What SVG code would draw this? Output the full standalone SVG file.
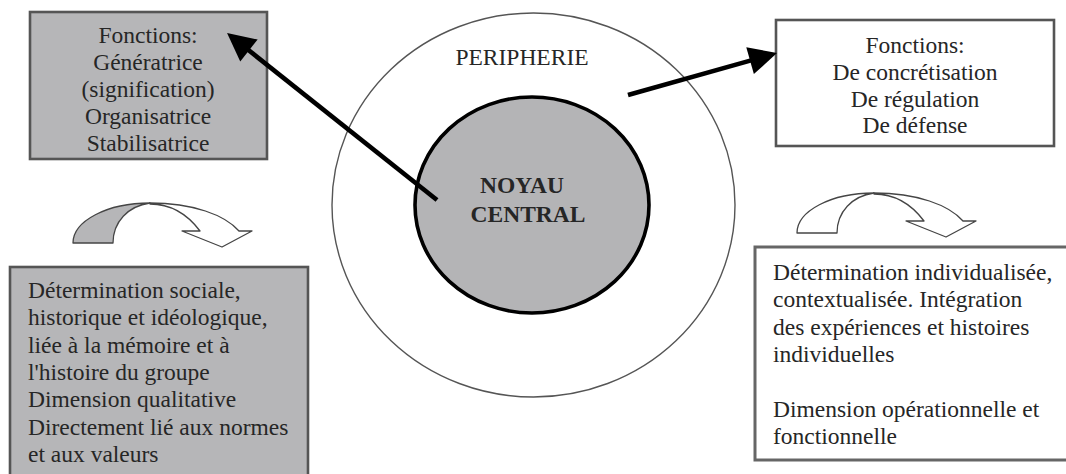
<svg xmlns="http://www.w3.org/2000/svg" width="1066" height="474" viewBox="0 0 1066 474">
<style>
  .box{stroke:#555;stroke-width:2.6}
  .gray{fill:#b6b6b8}
  .white{fill:#ffffff}
  .t{font-size:23.5px;fill:#262626}
  .c{text-anchor:middle}
  .b{font-weight:bold}
  .conn{stroke:#000;stroke-width:4.6;fill:none;marker-end:url(#head)}
  .curve{stroke:#454545;stroke-width:1.3;stroke-linejoin:round}
</style>
<defs>
  <marker id="head" markerUnits="userSpaceOnUse" viewBox="0 -15 30 30" markerWidth="30" markerHeight="30" refX="2" refY="0" orient="auto" overflow="visible">
    <path d="M0,-14 L28,0 L0,14 Z" fill="#000"/>
  </marker>
  <path id="bandL" d="M0,0 C0,-22 34,-40 77,-40 C55,-37 40,-21 40,0 Z"/>
  <path id="bandR" d="M77,-40 C120,-40 152,-28 166,-12 L179,-12 L149,4 L109,-12 L127,-12 C115,-28 98,-39 77,-39 Z"/>
</defs>
<rect width="1066" height="474" fill="#fff"/>
<g font-family="'Liberation Serif', 'DejaVu Serif', serif">
<g id="peripherie">
  <ellipse cx="533.5" cy="205" rx="201.5" ry="192" fill="#fff" stroke="#555" stroke-width="1.4"/>
  <text class="t c" x="522" y="65">PERIPHERIE</text>
</g>

<g id="noyau-central">
  <ellipse cx="532" cy="205" rx="117" ry="108" fill="#b4b4b6" stroke="#000" stroke-width="3.6"/>
  <text class="t b" x="522" y="193" text-anchor="middle">NOYAU</text>
  <text class="t b" x="528" y="222" text-anchor="middle">CENTRAL</text>
</g>

<g id="fonctions-noyau">
  <rect class="box gray" x="30" y="12" width="237" height="147"/>
  <text class="t c" x="148" y="43">Fonctions:</text>
  <text class="t c" x="148" y="70">Génératrice</text>
  <text class="t c" x="148" y="97">(signification)</text>
  <text class="t c" x="148" y="124">Organisatrice</text>
  <text class="t c" x="148" y="151">Stabilisatrice</text>
</g>

<g id="fonctions-peripherie">
  <rect class="box white" x="776" y="20" width="278" height="126"/>
  <text class="t c" x="915" y="53">Fonctions:</text>
  <text class="t c" x="915" y="80">De concrétisation</text>
  <text class="t c" x="915" y="106.5">De régulation</text>
  <text class="t c" x="915" y="133">De défense</text>
</g>

<g id="determination-sociale">
  <rect class="box gray" x="10" y="267" width="298" height="230"/>
  <text class="t" x="28" y="298">Détermination sociale,</text>
  <text class="t" x="28" y="325.3">historique et idéologique,</text>
  <text class="t" x="28" y="352.7">liée à la mémoire et à</text>
  <text class="t" x="28" y="380">l'histoire du groupe</text>
  <text class="t" x="28" y="407.3">Dimension qualitative</text>
  <text class="t" x="28" y="434.7">Directement lié aux normes</text>
  <text class="t" x="28" y="462">et aux valeurs</text>
</g>

<g id="determination-individualisee">
  <rect class="box white" x="755" y="247" width="330" height="213" style="stroke:#666;stroke-width:3"/>
  <text class="t" x="773" y="280">Détermination individualisée,</text>
  <text class="t" x="773" y="307.3">contextualisée. Intégration</text>
  <text class="t" x="773" y="334.7">des expériences et histoires</text>
  <text class="t" x="773" y="362">individuelles</text>
  <text class="t" x="773" y="416.7">Dimension opérationnelle et</text>
  <text class="t" x="773" y="444">fonctionnelle</text>
</g>
</g>
<g id="connectors">
  <line class="conn" x1="437" y1="200" x2="247.4" y2="49.2"/>
  <line class="conn" x1="628" y1="95" x2="752" y2="60.1"/>
  <g id="curved-left" transform="translate(73,243)">
    <use href="#bandR" class="curve white"/>
    <use href="#bandL" class="curve" fill="#b6b6b8"/>
  </g>
  <g id="curved-right" transform="translate(797,233)">
    <use href="#bandR" class="curve white"/>
    <use href="#bandL" class="curve white"/>
  </g>
</g>
</svg>
